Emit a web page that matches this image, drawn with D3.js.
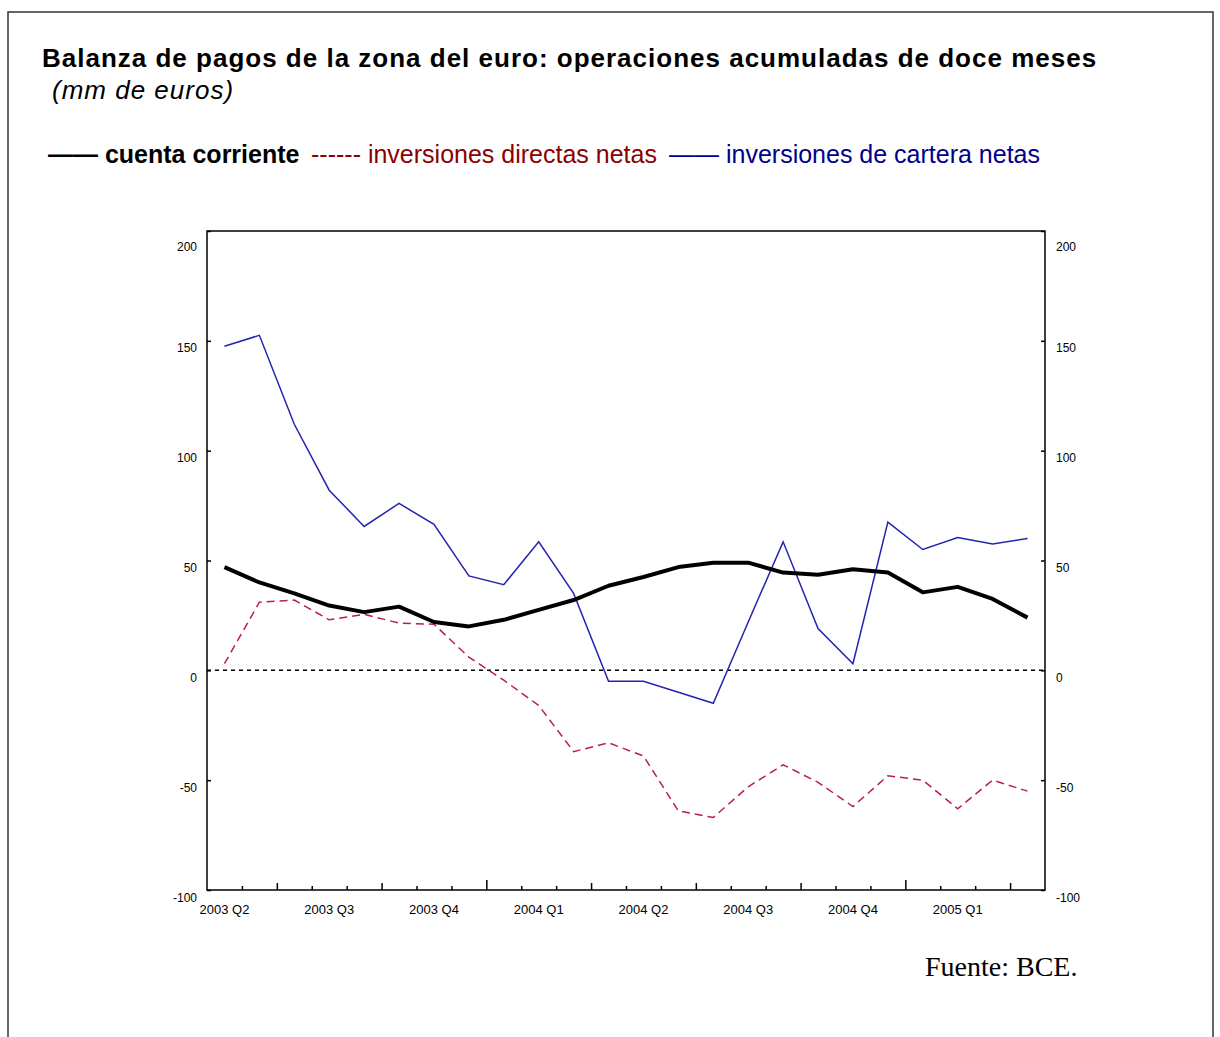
<!DOCTYPE html>
<html>
<head>
<meta charset="utf-8">
<title>Balanza de pagos</title>
<script src="https://d3js.org/d3.v7.min.js"></script>
<style>
    body { margin: 0; background: #fff; }
    svg text { font-family: "Liberation Sans", Arial, sans-serif; }
</style>
</head>
<body>
<svg width="1220" height="1037"></svg>
<script>
// months shown on the x axis (one point per month)
var months = ["2003-04","2003-05","2003-06","2003-07","2003-08","2003-09","2003-10","2003-11","2003-12",
              "2004-01","2004-02","2004-03","2004-04","2004-05","2004-06","2004-07","2004-08","2004-09",
              "2004-10","2004-11","2004-12","2005-01","2005-02","2005-03"];
var quarterMonths = ["2003-04","2003-07","2003-10","2004-01","2004-04","2004-07","2004-10","2005-01"];
var quarterLabels = ["2003 Q2","2003 Q3","2003 Q4","2004 Q1","2004 Q2","2004 Q3","2004 Q4","2005 Q1"];
var yTicks = [-100, -50, 0, 50, 100, 150, 200];

// mm de euros, twelve-month cumulated
var cuentaCorriente = [47, 40, 35, 29.5, 26.5, 29, 22, 20, 23, 27.5, 32, 38.5,
                       42.5, 47, 49, 49, 44.5, 43.5, 46, 44.5, 35.5, 38, 32.5, 24];
var directas = [3, 31, 32, 23, 25.5, 21.5, 21, 6, -4.5, -16, -37, -33,
                -39, -64, -67, -53, -43, -51, -62, -48, -50, -63, -50, -55];
var cartera = [147.5, 152.5, 112, 82, 65.5, 76, 66.5, 43, 39, 58.5, 35, -5,
               -5, -10, -15, 22, 58.5, 19, 3, 67.5, 55, 60.5, 57.5, 60];

var svg = d3.select("svg");

// page frame
svg.append("path")
   .attr("d", "M8,1037 V12 H1213 V1037")
   .attr("fill", "none")
   .attr("stroke", "#333")
   .attr("stroke-width", 1.5);

// title block
svg.append("text")
   .attr("x", 42).attr("y", 67)
   .attr("font-size", "26px").attr("font-weight", "bold")
   .attr("letter-spacing", "1px")
   .text("Balanza de pagos de la zona del euro: operaciones acumuladas de doce meses");
svg.append("text")
   .attr("x", 52).attr("y", 99)
   .attr("font-size", "26px").attr("font-style", "italic")
   .attr("letter-spacing", "1px")
   .text("(mm de euros)");

// legend (text style as in the original)
var legend = svg.append("text").attr("y", 163).attr("font-size", "25px");
legend.append("tspan").attr("x", 48).attr("font-weight", "bold").text("—— cuenta corriente");
legend.append("tspan").attr("x", 311).attr("fill", "#8b0000").text("------ inversiones directas netas");
legend.append("tspan").attr("x", 669).attr("fill", "#00008b").text("—— inversiones de cartera netas");

var pLeft = 207, pRight = 1045, pTop = 231, pBottom = 890;

var x = d3.scaleBand().domain(months).range([pLeft, pRight]);
var xb = d3.scaleLinear().domain([0, months.length]).range([pLeft, pRight]);
var y = d3.scaleLinear().domain([-100, 200]).range([pBottom, pTop]);

function xc(i) { return x(months[i]) + x.bandwidth() / 2; }

// month ticks on the bottom axis, pointing up
var tickLen = function(k) { return (k === 8 || k === 20) ? 10 : (k % 3 === 2 ? 7 : 4); };
var bt = svg.append("g")
   .attr("transform", "translate(0," + pBottom + ")")
   .call(d3.axisTop(xb).tickValues(d3.range(1, months.length)).tickFormat("").tickSizeOuter(0));
bt.select(".domain").remove();
bt.selectAll(".tick line").attr("y2", function(d) { return -tickLen(d); })
  .attr("stroke", "#000").attr("stroke-width", 1.5);

// quarter labels
var bl = svg.append("g")
   .attr("transform", "translate(0," + pBottom + ")")
   .call(d3.axisBottom(x).tickValues(quarterMonths)
         .tickFormat(function(d, i) { return quarterLabels[i]; })
         .tickSize(0).tickPadding(15));
bl.select(".domain").remove();
bl.selectAll("text").attr("font-size", "13px").attr("font-family", "Liberation Sans, Arial, sans-serif")
  .attr("fill", "#000");

// left and right y axes
var la = svg.append("g")
   .attr("transform", "translate(" + pLeft + ",0)")
   .call(d3.axisRight(y).tickValues(yTicks).tickSize(4).tickFormat(""));
la.select(".domain").remove();
la.selectAll("line").attr("stroke", "#000").attr("stroke-width", 1.5);

var ll = svg.append("g")
   .attr("transform", "translate(" + (pLeft - 10) + ",0)")
   .call(d3.axisLeft(y).tickValues(yTicks).tickSize(0).tickPadding(0)
         .tickFormat(function(d) { return String(d); }));
ll.select(".domain").remove();

var ra = svg.append("g")
   .attr("transform", "translate(" + pRight + ",0)")
   .call(d3.axisLeft(y).tickValues(yTicks).tickSize(4).tickFormat(""));
ra.select(".domain").remove();
ra.selectAll("line").attr("stroke", "#000").attr("stroke-width", 1.5);

var rl = svg.append("g")
   .attr("transform", "translate(" + (pRight + 11) + ",0)")
   .call(d3.axisRight(y).tickValues(yTicks).tickSize(0).tickPadding(0)
         .tickFormat(function(d) { return String(d); }));
rl.select(".domain").remove();

[ll, rl].forEach(function(g) {
    g.selectAll("text")
     .attr("font-size", "12px").attr("font-family", "Liberation Sans, Arial, sans-serif")
     .attr("fill", "#000")
     .attr("dy", function(d) { return d === 200 ? "19px" : "11px"; });
});

// plot frame
svg.append("rect")
   .attr("x", pLeft).attr("y", pTop)
   .attr("width", pRight - pLeft).attr("height", pBottom - pTop)
   .attr("fill", "none").attr("stroke", "#000").attr("stroke-width", 1.5);

// zero line
svg.append("line")
   .attr("x1", pLeft).attr("x2", pRight)
   .attr("y1", y(0)).attr("y2", y(0))
   .attr("stroke", "#000").attr("stroke-width", 1.5)
   .attr("stroke-dasharray", "4,4");

var line = function(vals) {
    return d3.line().x(function(d, i) { return xc(i); }).y(function(d) { return y(d); })(vals);
};

svg.append("path").attr("d", line(directas))
   .attr("fill", "none").attr("stroke", "#b81e55").attr("stroke-width", 1.5)
   .attr("stroke-dasharray", "8,5");

svg.append("path").attr("d", line(cartera))
   .attr("fill", "none").attr("stroke", "#2424b0").attr("stroke-width", 1.5);

svg.append("path").attr("d", line(cuentaCorriente))
   .attr("fill", "none").attr("stroke", "#000").attr("stroke-width", 4)
   .attr("stroke-linejoin", "round");

// source
svg.append("text")
   .attr("x", 925).attr("y", 976)
   .attr("font-size", "28px")
   .style("font-family", "'Liberation Serif', 'Times New Roman', serif")
   .text("Fuente: BCE.");
</script>
</body>
</html>
